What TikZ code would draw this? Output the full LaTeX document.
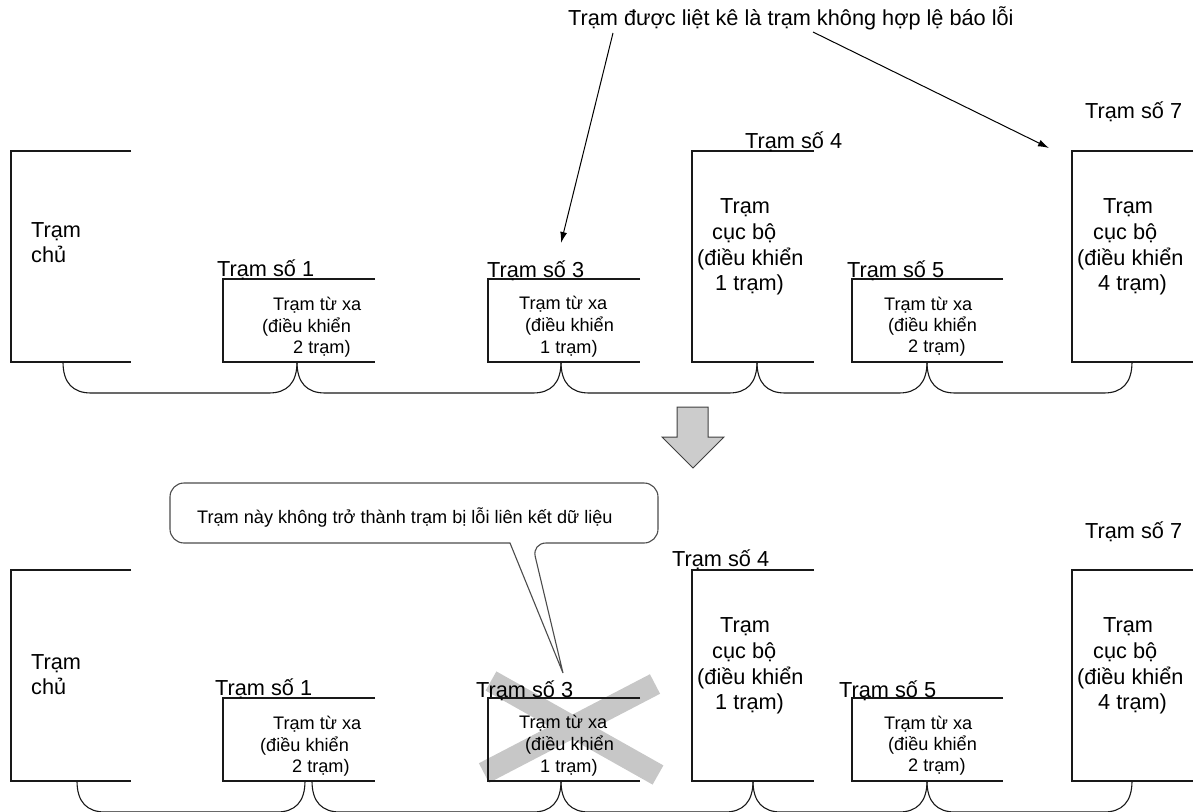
\documentclass[tikz,border=0pt]{standalone}
\usepackage{fontspec}
\setmainfont{Liberation Sans}
\usetikzlibrary{arrows.meta,calc}

\newcommand\lgfont{\fontsize{21.8}{25.6}\selectfont}
\newcommand\smfont{\fontsize{18.2}{22}\selectfont}
% open station frame: left, top, right end, bottom
\newcommand\stnframe[4]{\draw[stnline] (#3,#2) -- (#1,#2) -- (#1,#4) -- (#3,#4);}
% bus cable between two junctions, dropping 31 units below them
\newcommand\buslink[2]{\draw[cable] (#1) .. controls +(0,21) and +(-18,0) .. ($(#1)+(28,31)$)
  -- ($(#2)+(-28,31)$) .. controls +(18,0) and +(0,21) .. (#2);}

\begin{document}
\begin{tikzpicture}[x=1bp,y=-1bp,
  stnline/.style={draw=black!90,line width=1.1bp},
  cable/.style={draw=black!90,line width=1.1bp},
  lg/.style={anchor=base west,inner sep=0pt,font=\lgfont},
  sm/.style={anchor=base west,inner sep=0pt,font=\smfont},
  pointer/.style={draw=black,line width=1bp,-{Latex[length=11bp,width=7bp]}},
  bigarrow/.style={draw=black!75,line width=1bp,fill=black!20},
  xband/.style={draw=black!22,line width=22bp},
  bubble/.style={draw=black!70,line width=1.1bp,fill=white}]
\useasboundingbox (0,0) rectangle (1201,812);

% ---------- upper row ----------
\node[lg] (note) at (568,26) {Trạm được liệt kê là trạm không hợp lệ báo lỗi};
\coordinate (p3) at (613,33);
\coordinate (q3) at (561,243);
\coordinate (p7) at (813,32);
\coordinate (q7) at (1049,148);
\draw[pointer] (p3) -- (q3);
\draw[pointer] (p7) -- (q7);

\stnframe{11}{151}{131}{362}
\stnframe{223}{279}{375}{362}
\stnframe{488}{279}{640}{362}
\stnframe{692}{151}{814}{362}
\stnframe{852}{279}{1003}{362}
\stnframe{1072}{151}{1193}{362}

\node[lg] (tm1) at (31,237) {Trạm};
\node[lg] (tm2) at (31,262) {chủ};

\node[lg] (tl1) at (217,276) {Trạm số 1};
\node[sm] (ta1) at (273,310) {Trạm từ xa};
\node[sm] (ta2) at (262,332) {(điều khiển};
\node[sm] (ta3) at (293,353) {2 trạm)};

\node[lg] (tl3) at (487,277) {Trạm số 3};
\node[sm] (tb1) at (519,309) {Trạm từ xa};
\node[sm] (tb2) at (525,331) {(điều khiển};
\node[sm] (tb3) at (540,353) {1 trạm)};

\node[lg] (tl4) at (745,148) {Trạm số 4};
\node[lg] (tc1) at (720,213) {Trạm};
\node[lg] (tc2) at (712,239) {cục bộ};
\node[lg] (tc3) at (697,265) {(điều khiển};
\node[lg] (tc4) at (715,290) {1 trạm)};

\node[lg] (tl5) at (847,277) {Trạm số 5};
\node[sm] (td1) at (884,310) {Trạm từ xa};
\node[sm] (td2) at (888,331) {(điều khiển};
\node[sm] (td3) at (908,352) {2 trạm)};

\node[lg] (tl7) at (1085,119) {Trạm số 7};
\node[lg] (te1) at (1103,213) {Trạm};
\node[lg] (te2) at (1093,239) {cục bộ};
\node[lg] (te3) at (1077,265) {(điều khiển};
\node[lg] (te4) at (1098,290) {4 trạm)};

\coordinate (jm) at (63,362);
\coordinate (j1) at (297,362);
\coordinate (j3) at (561,362);
\coordinate (j4) at (757,362);
\coordinate (j5) at (927,362);
\coordinate (j7) at (1132,362);
\buslink{jm}{j1}
\buslink{j1}{j3}
\buslink{j3}{j4}
\buslink{j4}{j5}
\buslink{j5}{j7}

% ---------- transition arrow ----------
\draw[bigarrow] (677,407) -- (708,407) -- (708,437) -- (724,437) -- (693,468)
  -- (662,437) -- (677,437) -- cycle;

% ---------- lower row ----------
\draw[xband] (491,681) -- (658,775);
\draw[xband] (655,684) -- (484,773);

\draw[bubble] (510,543) [rounded corners=14bp] -- (170,543) -- (170,483) -- (658,483)
  -- (658,543) -- (532,543) [sharp corners] -- (563,673) -- cycle;
\node[sm] (msg) at (197,523) {Trạm này không trở thành trạm bị lỗi liên kết dữ liệu};

\stnframe{11}{570}{131}{781}
\stnframe{223}{698}{375}{781}
\stnframe{488}{698}{640}{781}
\stnframe{692}{570}{814}{781}
\stnframe{852}{698}{1003}{781}
\stnframe{1072}{570}{1193}{781}

\node[lg] (bm1) at (31,669) {Trạm};
\node[lg] (bm2) at (31,694) {chủ};

\node[lg] (bl1) at (215,695) {Trạm số 1};
\node[sm] (ba1) at (273,729) {Trạm từ xa};
\node[sm] (ba2) at (260,751) {(điều khiển};
\node[sm] (ba3) at (292,772) {2 trạm)};

\node[lg] (bl3) at (476,697) {Trạm số 3};
\node[sm] (bb1) at (519,728) {Trạm từ xa};
\node[sm] (bb2) at (525,750) {(điều khiển};
\node[sm] (bb3) at (540,772) {1 trạm)};

\node[lg] (bl4) at (672,566) {Trạm số 4};
\node[lg] (bc1) at (720,632) {Trạm};
\node[lg] (bc2) at (712,658) {cục bộ};
\node[lg] (bc3) at (697,684) {(điều khiển};
\node[lg] (bc4) at (715,709) {1 trạm)};

\node[lg] (bl5) at (839,697) {Trạm số 5};
\node[sm] (bd1) at (884,729) {Trạm từ xa};
\node[sm] (bd2) at (888,750) {(điều khiển};
\node[sm] (bd3) at (908,771) {2 trạm)};

\node[lg] (bl7) at (1085,538) {Trạm số 7};
\node[lg] (be1) at (1103,632) {Trạm};
\node[lg] (be2) at (1093,658) {cục bộ};
\node[lg] (be3) at (1077,684) {(điều khiển};
\node[lg] (be4) at (1098,709) {4 trạm)};

\coordinate (km) at (77,781);
\coordinate (k1a) at (305,781);
\coordinate (k1b) at (312,781);
\coordinate (k3) at (561,781);
\coordinate (k4) at (753,781);
\coordinate (k5) at (927,781);
\coordinate (k7) at (1132,781);
\buslink{km}{k1a}
\buslink{k1b}{k3}
\buslink{k3}{k4}
\buslink{k4}{k5}
\buslink{k5}{k7}
\end{tikzpicture}
\end{document}
